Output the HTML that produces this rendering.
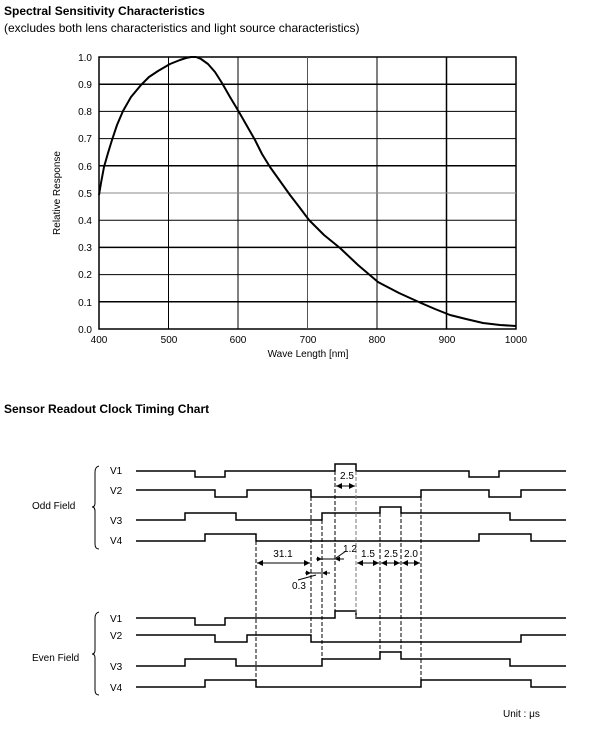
<!DOCTYPE html>
<html><head><meta charset="utf-8"><style>
html,body{margin:0;padding:0;background:#fff;}
svg{display:block;font-family:"Liberation Sans",Arial,sans-serif;}
</style></head><body>
<svg width="600" height="739" viewBox="0 0 600 739" xmlns="http://www.w3.org/2000/svg">
<defs>
<marker id="ar" viewBox="0 0 8 8" refX="8" refY="4" markerWidth="6" markerHeight="6" orient="auto-start-reverse"><path d="M0,0 L8,4 L0,8 z" fill="#000"/></marker>
</defs>
<text x="4" y="15" font-size="12" font-weight="bold">Spectral Sensitivity Characteristics</text>
<text x="4" y="32" font-size="12">(excludes both lens characteristics and light source characteristics)</text>
<g stroke="#000" stroke-width="1">
<rect x="99" y="57" width="417" height="272" fill="none" stroke-width="1.5"/>
<line x1="168.5" y1="57" x2="168.5" y2="329"/>
<line x1="238" y1="57" x2="238" y2="329"/>
<line x1="307.5" y1="57" x2="307.5" y2="329" stroke="#555"/>
<line x1="377" y1="57" x2="377" y2="329"/>
<line x1="446.5" y1="57" x2="446.5" y2="329" stroke-width="1.5"/>
<line x1="99" y1="84.2" x2="516" y2="84.2" stroke-width="1.5"/>
<line x1="99" y1="111.4" x2="516" y2="111.4"/>
<line x1="99" y1="138.6" x2="516" y2="138.6"/>
<line x1="99" y1="165.8" x2="516" y2="165.8" stroke-width="1.5"/>
<line x1="99" y1="193" x2="516" y2="193" stroke="#888"/>
<line x1="99" y1="220.2" x2="516" y2="220.2"/>
<line x1="99" y1="247.4" x2="516" y2="247.4" stroke-width="1.5"/>
<line x1="99" y1="274.6" x2="516" y2="274.6"/>
<line x1="99" y1="301.8" x2="516" y2="301.8" stroke-width="1.5"/>
</g>
<polyline points="99,195 101,183 104,167 108,153 112,140 117,125 123,111 131,97 141,85 149,77 158,71 170,64 180,60 186,58 191,57 196,57 201,59 208,64 215,72 222,83 230,97 239,112 247,126 255,140 262,154 270,167 280,181 290,195 300,208 309,220 324,235 340,248 358,265 378,282 399,293 421,303 435,309 450,315 466,319 483,323 500,325 516,326" fill="none" stroke="#000" stroke-width="2" stroke-linejoin="round"/>
<g font-size="10" text-anchor="end">
<text x="92" y="61">1.0</text><text x="92" y="88">0.9</text><text x="92" y="115">0.8</text><text x="92" y="142">0.7</text><text x="92" y="170">0.6</text><text x="92" y="197">0.5</text><text x="92" y="224">0.4</text><text x="92" y="251">0.3</text><text x="92" y="278">0.2</text><text x="92" y="306">0.1</text><text x="92" y="333">0.0</text>
</g>
<g font-size="10" text-anchor="middle">
<text x="99" y="343">400</text><text x="169" y="343">500</text><text x="238" y="343">600</text><text x="308" y="343">700</text><text x="377" y="343">800</text><text x="447" y="343">900</text><text x="516" y="343">1000</text>
<text x="308" y="357">Wave Length [nm]</text>
<text transform="translate(60,193) rotate(-90)">Relative Response</text>
</g>

<text x="4" y="413" font-size="12" font-weight="bold">Sensor Readout Clock Timing Chart</text>

<g font-size="10">
<text x="110" y="474">V1</text><text x="110" y="494">V2</text><text x="110" y="524">V3</text><text x="110" y="544">V4</text>
<text x="32" y="509">Odd Field</text>
<text x="110" y="622">V1</text><text x="110" y="639">V2</text><text x="110" y="670">V3</text><text x="110" y="691">V4</text>
<text x="32" y="661">Even Field</text>
<text x="503" y="717">Unit : μs</text>
</g>
<g fill="none" stroke="#000" stroke-width="1">
<path d="M99,466 Q95,467 95,472 L95,503 Q95,507 92,507 Q95,507 95,511 L95,544 Q95,549 99,549"/>
<path d="M99,612 Q95,613 95,618 L95,650 Q95,654 92,654 Q95,654 95,658 L95,690 Q95,695 99,695"/>
</g>
<g fill="none" stroke="#000" stroke-width="1.5">
<polyline points="136,471 195,471 195,477 225,477 225,471 335,471 335,464 356,464 356,471 469,471 469,477 499,477 499,471 566,471"/>
<polyline points="136,490 215,490 215,497 247,497 247,490 311,490 311,497 421,497 421,490 489,490 489,497 521,497 521,490 566,490"/>
<polyline points="136,520 185,520 185,513 236,513 236,520 322,520 322,513 380,513 380,507 401,507 401,513 510,513 510,520 566,520"/>
<polyline points="136,541 205,541 205,534 256,534 256,541 479,541 479,534 531,534 531,541 566,541"/>
<polyline points="136,618 195,618 195,625 225,625 225,618 335,618 335,611 356,611 356,618 566,618"/>
<polyline points="136,635 215,635 215,642 247,642 247,635 311,635 311,642 521,642 521,635 566,635"/>
<polyline points="136,666 185,666 185,659 236,659 236,666 322,666 322,659 380,659 380,652 401,652 401,659 510,659 510,666 566,666"/>
<polyline points="136,687 205,687 205,680 256,680 256,687 421,687 421,680 531,680 531,687 566,687"/>
</g>
<g stroke="#000" stroke-width="1" stroke-dasharray="4,2">
<line x1="256" y1="541" x2="256" y2="687"/>
<line x1="311" y1="497" x2="311" y2="642"/>
<line x1="322" y1="520" x2="322" y2="666"/>
<line x1="335" y1="471" x2="335" y2="618"/>
<line x1="356" y1="471" x2="356" y2="618" stroke="#777"/>
<line x1="380" y1="513" x2="380" y2="659"/>
<line x1="401" y1="513" x2="401" y2="659"/>
<line x1="421" y1="497" x2="421" y2="687"/>
</g>
<g stroke="#000" stroke-width="1" marker-start="url(#ar)" marker-end="url(#ar)">
<line x1="336" y1="486" x2="355" y2="486"/>
<line x1="257" y1="563" x2="310" y2="563"/>
<line x1="357" y1="563" x2="379" y2="563"/>
<line x1="381" y1="563" x2="400" y2="563"/>
<line x1="402" y1="563" x2="420" y2="563"/>
</g>
<g stroke="#000" stroke-width="1">
<line x1="316" y1="559" x2="344" y2="559"/>
<line x1="305" y1="573" x2="330" y2="573"/>
</g>
<g fill="#000">
<path d="M322,559 l-5,-2.5 v5 z"/><path d="M335,559 l5,-2.5 v5 z"/>
<path d="M311,573 l-5,-2.5 v5 z"/><path d="M322,573 l5,-2.5 v5 z"/>
</g>
<g stroke="#000" stroke-width="1" fill="#000">
<line x1="346" y1="551" x2="336" y2="558"/>
<line x1="298" y1="580" x2="316" y2="575"/>
</g>
<g font-size="10" text-anchor="middle">
<text x="347" y="479">2.5</text>
<text x="283" y="557">31.1</text>
<text x="350" y="552">1.2</text>
<text x="368" y="557">1.5</text>
<text x="391" y="557">2.5</text>
<text x="411" y="557">2.0</text>
<text x="299" y="589">0.3</text>
</g>
</svg>
</body></html>
